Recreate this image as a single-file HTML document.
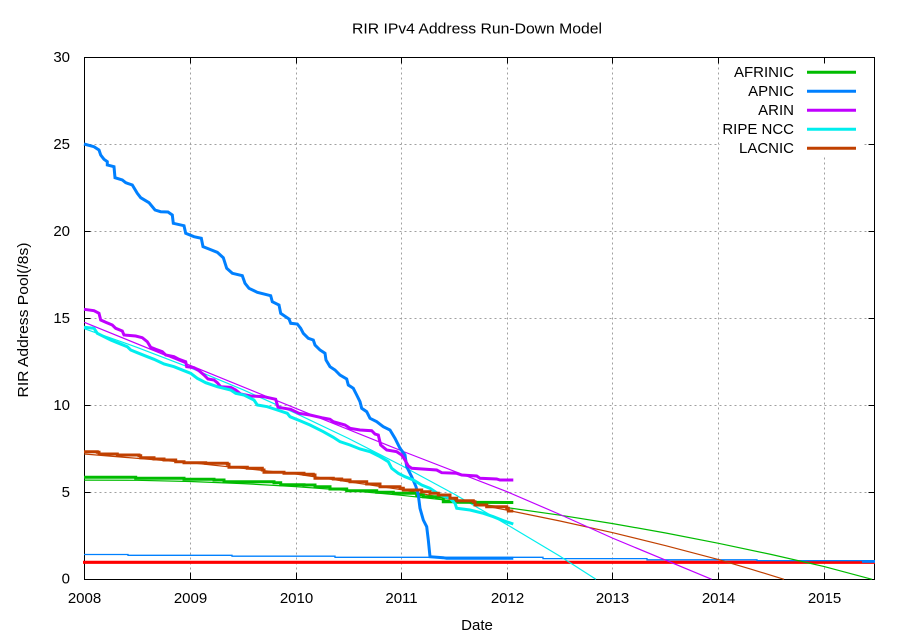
<!DOCTYPE html>
<html>
<head>
<meta charset="utf-8">
<style>
html,body{margin:0;padding:0;background:#fff;}
svg{display:block;}
text{font-family:"Liberation Sans",Arial,sans-serif;fill:#000;}
</style>
</head>
<body>
<svg width="900" height="640" viewBox="0 0 900 640" xmlns="http://www.w3.org/2000/svg">
<rect x="0" y="0" width="900" height="640" fill="#fff"/>

<!-- grid -->
<g stroke="#a0a0a0" stroke-width="1" stroke-dasharray="2,3" fill="none">
  <line x1="190.5" y1="57.5" x2="190.5" y2="579.5"/>
  <line x1="296.5" y1="57.5" x2="296.5" y2="579.5"/>
  <line x1="401.5" y1="57.5" x2="401.5" y2="579.5"/>
  <line x1="507.5" y1="57.5" x2="507.5" y2="579.5"/>
  <line x1="612.5" y1="57.5" x2="612.5" y2="579.5"/>
  <line x1="718.5" y1="57.5" x2="718.5" y2="579.5"/>
  <line x1="824.5" y1="57.5" x2="824.5" y2="579.5"/>
  <line x1="84.5" y1="492.5" x2="874.5" y2="492.5"/>
  <line x1="84.5" y1="405.5" x2="874.5" y2="405.5"/>
  <line x1="84.5" y1="318.5" x2="874.5" y2="318.5"/>
  <line x1="84.5" y1="231.5" x2="874.5" y2="231.5"/>
  <line x1="84.5" y1="144.5" x2="874.5" y2="144.5"/>
</g>

<!-- legend background -->
<rect x="720" y="60" width="143" height="97" fill="#fff"/>

<!-- border & ticks -->
<g stroke="#000" stroke-width="1" fill="none">
  <rect x="84.5" y="57.5" width="790" height="522"/>
  <path d="M84.5 492.5h6M84.5 405.5h6M84.5 318.5h6M84.5 231.5h6M84.5 144.5h6
           M874.5 492.5h-6M874.5 405.5h-6M874.5 318.5h-6M874.5 231.5h-6M874.5 144.5h-6
           M190.5 579.5v-7M296.5 579.5v-7M401.5 579.5v-7M507.5 579.5v-7M612.5 579.5v-7M718.5 579.5v-7M824.5 579.5v-7
           M190.5 57.5v6M296.5 57.5v6M401.5 57.5v6M507.5 57.5v6M612.5 57.5v6M718.5 57.5v6M824.5 57.5v6"/>
</g>

<!-- red threshold line -->
<line x1="83" y1="562.3" x2="875" y2="562.3" stroke="#ff0000" stroke-width="3.2"/>

<!-- APNIC thin step line -->
<polyline fill="none" stroke="#0080ff" stroke-width="1.3" points="84,554.5 128,554.5 128,555.3 232,555.3 232,556.2 335,556.2 335,557.3 543,557.3 543,558.6 647,558.6 647,559.8 757,559.8 757,560.6 875,560.6"/>
<line x1="862" y1="561.8" x2="875" y2="561.8" stroke="#0080ff" stroke-width="2"/>

<!-- fit curves (thin) -->
<polyline fill="none" stroke="#00bb00" stroke-width="1.2" points="84.3,480.1 137.2,480.3 190,481.5 242.9,483.6 295.7,486.6 348.6,490.5 401.4,495.3 454.3,501 507.1,507.6 560,515.2 612.8,523.6 665.7,533 718.5,543.3 771.4,554.5 824.2,566.6 872,579.3"/>
<polyline fill="none" stroke="#c04000" stroke-width="1.2" points="84.3,454 190,462.7 295.7,474 401.4,489.7 507.1,510.2 560,521 612.8,532.7 665.7,545.7 718.5,559.6 750.2,568.9 784,579.3"/>
<polyline fill="none" stroke="#c000ff" stroke-width="1.2" points="84.3,322.3 190.7,365.6 304,411.7 402,451 507,491.7 560,514.5 612.3,538 711.7,579.3"/>
<polyline fill="none" stroke="#00eeee" stroke-width="1.2" points="84.3,328.7 137.2,347.4 190,367.7 242.9,389.7 295.7,413.3 348.6,438.5 401.4,465.5 454.3,494.1 507.1,524.7 560,556.2 595.9,579.3"/>

<!-- thick data series -->
<g fill="none" stroke-width="3" stroke-linejoin="miter" stroke-linecap="butt">
<polyline stroke="#00bb00" points="84,477.3 135.7,477.3 135.7,478.3 184,478.3 184,479.3 214,479.3 214,480 224,480 224,481.7 274,481.7 274,482.7 280.7,482.7 280.7,484.7 304,484.7 304,485 315,485 315,486.7 330,486.7 330,489 346.7,489 346.7,490.7 376.7,490.7 376.7,492.3 393.3,492.3 393.3,493.3 416.7,493.3 416.7,495 423.3,495 423.3,496.7 436.7,496.7 436.7,497.3 443.3,497.3 443.3,501.7 456.7,501.7 456.7,502.3 513.3,502.5"/>
<polyline stroke="#0080ff" points="84,144 94,146.7 99,150 100.7,155 104,159.3 107.3,161.7 107.3,165 114,166.7 115,177.7 122.3,180 125.7,182.7 132.3,185 137.3,193.3 140.7,197.7 149,202.7 155,210 160.7,211.7 168,212 172.3,215 173.3,223.3 184,225.7 185.7,233.3 194,236.7 201.3,238.3 203,246.7 209,249 217.3,252.3 223.3,257.7 226.7,268.3 232.3,273.3 242.3,275.7 245,283.3 249,288.3 257.3,292.3 270.7,295.7 272.3,301.7 279,305 280.7,313.3 289,319 290.7,323.3 297.3,324 300.7,328.3 303.3,333.3 308.3,338.3 313.3,340 315,345 320,350 325,353.3 326,360 330,366.7 335,370 340,375 346.7,379 348.3,385 353.3,388.3 356.7,395 360,401.7 361.7,408.3 366.7,411.7 370,418.3 376.7,421.7 383.3,426.7 390,430 395,438.3 400,448.3 405,455 406.7,466.7 411.7,476.7 416,486.7 418.3,495 420,508.3 423.3,520 426.7,526.7 428.3,540 430,556.7 443.3,557.7 446.7,558.3 513.3,558.3"/>
<polyline stroke="#c000ff" points="84,309.3 94,310.7 99,313.3 100.7,320 105.7,322.3 112.3,325 115.7,328.3 122.3,331 124,335 135.7,336 142.3,337.7 147.3,341.7 150.7,347.3 155.7,349.3 162.3,351.7 165.7,355 174,356.7 179,359.3 185.7,361.7 186.7,366.7 194,367.7 199,370.7 204,375 208,379 214,380 217.3,382.7 220.7,386.7 230.7,387.3 235.7,390 240.7,394 250.7,396 264,396.7 275.7,399.3 278,407.3 290.7,409.3 299,413.3 310,415 321.7,417.7 330,419.3 333.3,421.7 345,425 350,428.3 360,430 371.7,430.7 375,434 378.3,435 380.7,445 386.7,450 396.7,451.7 401.7,455 405,460 408.3,466 411.7,468.3 436.7,470 441.7,472.7 456.7,473.3 461.7,475 476.7,476 480,478.3 496.7,479 500,480 513.3,480"/>
<polyline stroke="#00eeee" points="84,327.3 94,328.3 97.3,333.3 104,336.7 110.7,340 117.3,342.7 127.3,346.7 130.7,350 137.3,352.7 147.3,356.7 154,359.3 164,364 174,366.7 184,370.7 190.7,373.3 197.3,378.3 205.7,382.7 217.3,386.7 230.7,390 235.7,393.3 244,395 254,400 257.3,405 267.3,406.7 277.3,410 287.3,413.3 290,416.7 300,420.7 310,425 323.3,431.7 333.3,437.3 340,441.7 350,445 360,449 370,451.7 380,456.7 388.3,461.7 391.7,468.3 398.3,473.3 405,476.7 413.3,480 421.7,485 430,488.3 440,495 450,498.3 455,503.3 456.7,508.3 470,510 483.3,513.3 493.3,516.7 503.3,520.7 513.3,524"/>
<polyline stroke="#c04000" points="84,451.7 97.3,451.7 97.3,452.3 99,452.3 99,454 117.3,454 117.3,455 139,455 139,455.7 140.7,455.7 140.7,457.7 154,457.7 154,459 164,459 164,460 175.7,460 175.7,461.7 184,461.7 184,462.7 205.7,462.7 205.7,463.3 227.3,463.3 227.3,464.3 229,464.3 229,467.3 247.3,467.3 247.3,468.3 262.3,468.3 262.3,470 264,470 264,472.3 284,472.3 284,473.3 304,473.3 304,474.3 313.3,474.3 313.3,475 315,475 315,478.3 333.3,478.3 333.3,479 341.7,479 341.7,480 350,480 350,481.7 366.7,481.7 366.7,484 380,484 380,486.7 400,486.7 400,488.3 403.3,488.3 403.3,490 421.7,490 421.7,491.7 430,491.7 430,493.3 438.3,493.3 438.3,495 450,495 450,498.3 456.7,498.3 456.7,500.7 473.3,500.7 473.3,501.7 475,501.7 475,505 486.7,505 486.7,506.7 506.7,506.7 506.7,508.3 508.3,508.3 508.3,511 513.3,511"/>
</g>

<!-- legend -->
<g font-size="15" text-anchor="end">
  <text x="794" y="77">AFRINIC</text>
  <text x="794" y="96">APNIC</text>
  <text x="794" y="115">ARIN</text>
  <text x="794" y="134">RIPE NCC</text>
  <text x="794" y="153">LACNIC</text>
</g>
<g stroke-width="3">
  <line x1="807" y1="72.3" x2="856" y2="72.3" stroke="#00bb00"/>
  <line x1="807" y1="91.3" x2="856" y2="91.3" stroke="#0080ff"/>
  <line x1="807" y1="110.3" x2="856" y2="110.3" stroke="#c000ff"/>
  <line x1="807" y1="129.3" x2="856" y2="129.3" stroke="#00eeee"/>
  <line x1="807" y1="148.3" x2="856" y2="148.3" stroke="#c04000"/>
</g>

<!-- y tick labels -->
<g font-size="15" text-anchor="end">
  <text x="70" y="62">30</text>
  <text x="70" y="149">25</text>
  <text x="70" y="236">20</text>
  <text x="70" y="323">15</text>
  <text x="70" y="410">10</text>
  <text x="70" y="497">5</text>
  <text x="70" y="583.5">0</text>
</g>
<!-- x tick labels -->
<g font-size="15" text-anchor="middle">
  <text x="84.5" y="603">2008</text>
  <text x="190.5" y="603">2009</text>
  <text x="296.5" y="603">2010</text>
  <text x="401.5" y="603">2011</text>
  <text x="507.5" y="603">2012</text>
  <text x="612.5" y="603">2013</text>
  <text x="718.5" y="603">2014</text>
  <text x="824.5" y="603">2015</text>
</g>

<!-- title & axis labels -->
<text x="352" y="33.5" font-size="15" textLength="250" lengthAdjust="spacingAndGlyphs">RIR IPv4 Address Run-Down Model</text>
<text x="477" y="630" font-size="15" text-anchor="middle">Date</text>
<text transform="translate(28,320) rotate(-90)" font-size="15" text-anchor="middle" textLength="155" lengthAdjust="spacingAndGlyphs">RIR Address Pool(/8s)</text>
</svg>
</body>
</html>
